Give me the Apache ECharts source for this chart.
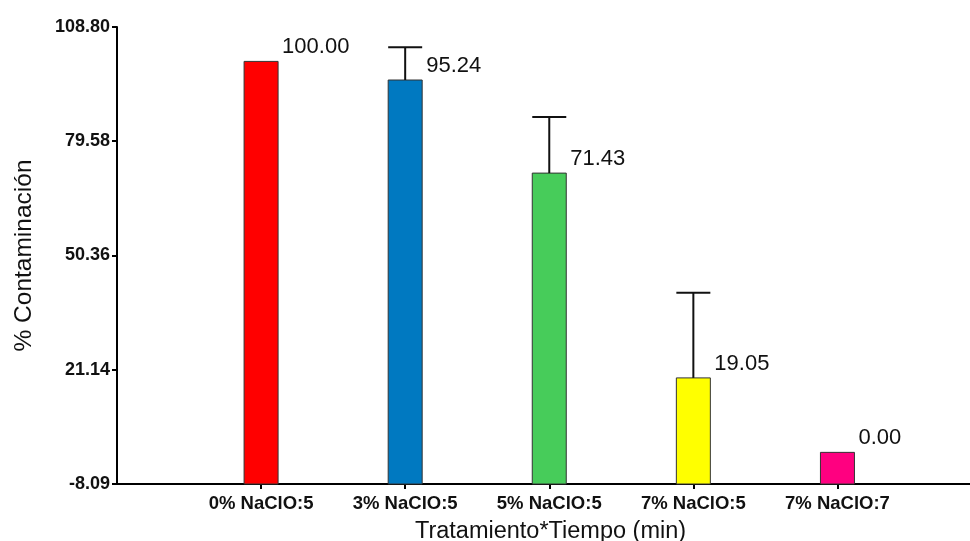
<!DOCTYPE html>
<html>
<head>
<meta charset="utf-8">
<title>% Contaminación por tratamiento</title>
<script src="https://cdn.jsdelivr.net/npm/echarts@6/dist/echarts.min.js"></script>
<style>
  html, body { margin: 0; padding: 0; background: #fff; }
  #chart { width: 970px; height: 541px; }
</style>
</head>
<body>
<div id="chart"></div>
<script>
// Treatment * time groups
const categories = ['0% NaClO:5', '3% NaClO:5', '5% NaClO:5', '7% NaClO:5', '7% NaClO:7'];
// Mean contamination (%)
const means = [100.00, 95.24, 71.43, 19.05, 0.00];
// Upper error (same units), 0 = no error bar
const errors = [0, 8.37, 14.35, 21.80, 0];
// Bar fill colours
const barColors = ['#ff0000', '#0079c1', '#47cc5a', '#ffff00', '#ff0080'];
// Y axis range and tick labels
const yMin = -8.09;
const yMax = 108.80;
const yTicks = [-8.09, 21.14, 50.36, 79.58, 108.80];

const FONT = "'Liberation Sans', Arial, sans-serif";
const BAR_W = 34;

const chart = echarts.init(document.getElementById('chart'), null, { renderer: 'canvas' });

const data = means.map((v, i) => [i, v, errors[i]]);

chart.setOption({
  animation: false,
  backgroundColor: '#ffffff',
  grid: { left: 117, right: 0, top: 27, bottom: 57, outerBoundsMode: 'none', containLabel: false },
  xAxis: {
    type: 'value',
    min: -1,
    max: 4.92,
    splitLine: { show: false },
    axisLine: { show: true, onZero: false, lineStyle: { color: '#000', width: 2 } },
    axisTick: { show: true, length: 5, lineStyle: { color: '#000', width: 2 }, customValues: [0, 1, 2, 3, 4] },
    axisLabel: {
      customValues: [0, 1, 2, 3, 4],
      formatter: v => categories[Math.round(v)] || '',
      fontFamily: FONT, fontSize: 18.5, fontWeight: 'bold', color: '#111', margin: 10
    },
    name: 'Tratamiento*Tiempo (min)',
    nameLocation: 'middle',
    nameGap: 36,
    nameTextStyle: { fontFamily: FONT, fontSize: 23.5, color: '#111', padding: [0, 0, 0, 14] }
  },
  yAxis: {
    type: 'value',
    min: yMin,
    max: yMax,
    splitLine: { show: false },
    axisLine: { show: true, onZero: false, lineStyle: { color: '#000', width: 2 } },
    axisTick: { show: true, length: 5, lineStyle: { color: '#000', width: 2 }, customValues: yTicks },
    axisLabel: {
      customValues: yTicks,
      formatter: v => v.toFixed(2),
      fontFamily: FONT, fontSize: 18, fontWeight: 'bold', color: '#111', margin: 7
    },
    name: '% Contaminación',
    nameLocation: 'middle',
    nameGap: 80,
    nameTextStyle: { fontFamily: FONT, fontSize: 24.5, color: '#111' }
  },
  series: [{
    type: 'custom',
    clip: false,
    data: data,
    encode: { x: 0, y: 1 },
    renderItem: (params, api) => {
      const x = api.value(0);
      const v = api.value(1);
      const e = api.value(2);
      const top = api.coord([x, v]);
      const base = api.coord([x, yMin]);
      const children = [{
        type: 'rect',
        shape: { x: top[0] - BAR_W / 2, y: top[1], width: BAR_W, height: base[1] - top[1] },
        style: { fill: barColors[params.dataIndex], stroke: '#333', lineWidth: 1 }
      }];
      if (e > 0) {
        const et = api.coord([x, v + e]);
        children.push({
          type: 'line',
          shape: { x1: top[0], y1: top[1], x2: et[0], y2: et[1] },
          style: { stroke: '#111', lineWidth: 2 }
        });
        children.push({
          type: 'line',
          shape: { x1: et[0] - BAR_W / 2, y1: et[1], x2: et[0] + BAR_W / 2, y2: et[1] },
          style: { stroke: '#111', lineWidth: 2 }
        });
      }
      children.push({
        type: 'text',
        x: top[0] + BAR_W / 2 + 4,
        y: top[1] - 14,
        style: {
          text: v.toFixed(2),
          fontFamily: FONT, fontSize: 22, fill: '#111',
          align: 'left', verticalAlign: 'middle'
        }
      });
      return { type: 'group', children: children };
    }
  }]
});
</script>
</body>
</html>
